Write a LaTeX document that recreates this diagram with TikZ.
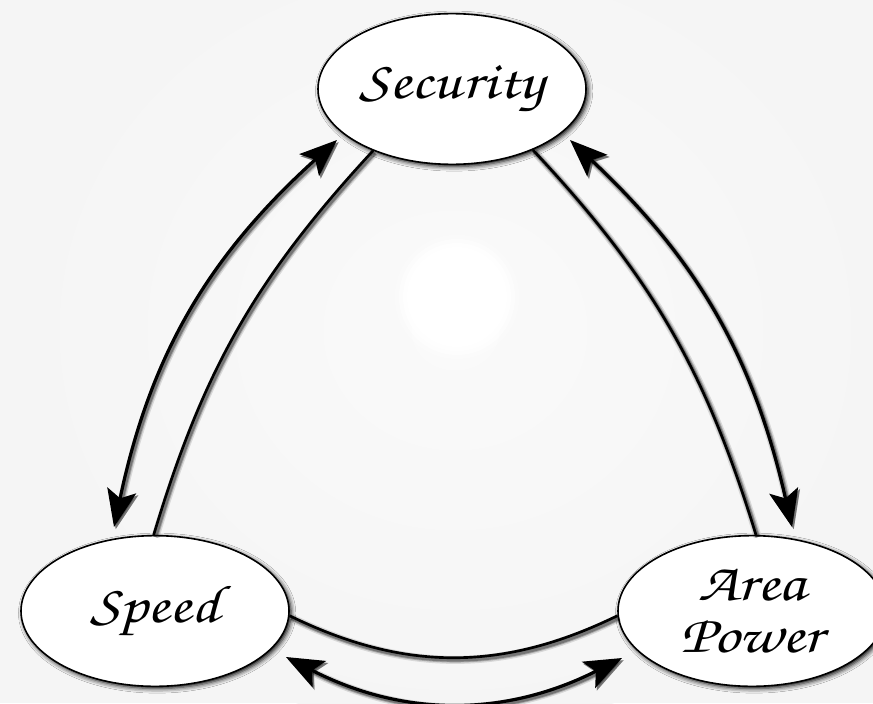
\documentclass[tikz,border=0pt]{standalone}
\usepackage{fontspec}
\usetikzlibrary{shapes.geometric,arrows.meta,shadows.blur,calc}
\newfontfamily\hand[FakeStretch=1.2]{texgyrechorus-mediumitalic.otf}
\definecolor{bgcol}{RGB}{245,245,245}
\definecolor{bgmid}{RGB}{250,250,250}
\tikzset{
  bubble/.style={ellipse, draw=black, line width=1.2pt, fill=white,
    minimum width=201pt, minimum height=113pt, inner sep=0pt,
    font=\hand\fontsize{40}{39}\selectfont, align=center,
    blur shadow={shadow xshift=1.6pt, shadow yshift=-1.6pt,
      shadow blur radius=3.5pt, shadow opacity=100}},
  lshadow/.style={preaction={draw=black, opacity=0.12, line width=6pt,
      transform canvas={xshift=1.3pt,yshift=-1.6pt}},
    preaction={draw=black, opacity=0.22, line width=4pt,
      transform canvas={xshift=1.3pt,yshift=-1.6pt}},
    preaction={draw=black, opacity=0.3, line width=2.6pt,
      transform canvas={xshift=1.3pt,yshift=-1.6pt}}},
  link/.style={draw=black, line width=2.0pt, lshadow},
  twoway/.style={draw=black, line width=2.4pt, lshadow,
    arrows={Stealth[length=28pt,width=22pt,inset=6pt]-Stealth[length=28pt,width=22pt,inset=6pt]}}
}
\begin{document}
\begin{tikzpicture}[x=0.75pt,y=-0.75pt]
\useasboundingbox (0,0) rectangle (873,703);
\fill[bgcol] (0,0) rectangle (873,703);
\shade[inner color=bgmid, outer color=bgcol] (455,330) ellipse (440 and 400);
\foreach \r/\o in {62/0.3,58/0.55,54/0.8,50/1}{
  \fill[white, opacity=\o] (457,297) circle (\r);
}
\node[bubble] (sec) at (452,89) {Security};
\node[bubble] (spd) at (155,611) {Speed};
\node[bubble] (apw) at (752,611) {Area\\Power};
% left pair
\draw[twoway] ($(sec.center)+(-115,51)$) to[bend right=18] ($(spd.center)+(-41,-84)$);
\draw[link] (sec.218) to[bend right=13] (spd.91.5);
% right pair
\draw[twoway] ($(sec.center)+(118,51)$) to[bend left=17] ($(apw.center)+(40,-84)$);
\draw[link] (sec.323.5) to[bend left=13] (apw.87);
% bottom pair
\draw[link] (spd.358) to[bend right=26] (apw.182.6);
\draw[twoway] ($(spd.center)+(131,46)$) to[bend right=27] ($(apw.center)+(-130,47)$);
\end{tikzpicture}
\end{document}
